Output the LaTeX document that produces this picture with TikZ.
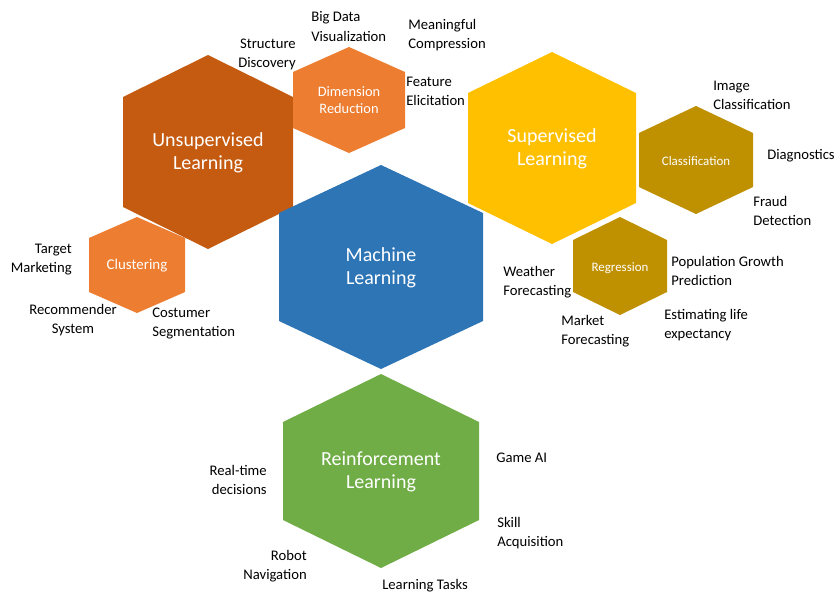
\documentclass[tikz,border=0pt]{standalone}
\usepackage{fontspec}
\setmainfont{Carlito}
\usepackage{tikz}
\usetikzlibrary{positioning}

\definecolor{unsupc}{HTML}{C55A11}
\definecolor{lightor}{HTML}{ED7D31}
\definecolor{mlblue}{HTML}{2E75B6}
\definecolor{supc}{HTML}{FFC000}
\definecolor{goldc}{HTML}{BF9000}
\definecolor{reinfc}{HTML}{70AD47}

\begin{document}
\begin{tikzpicture} [x=.75pt, y=-.75pt,
  lbl/.style={font=\fontsize{11}{14.3}\selectfont, inner sep=0pt},
  hexlbl/.style={white, align=center, inner sep=0pt}]
\useasboundingbox (0,0) rectangle (834,593);

\foreach \cx/\cy/\w/\h/\s/\c in {208/152/85/97/42/unsupc, 349/100/56/53/25/lightor, 381/267/102/102/48/mlblue, 552/148/84/96/41/supc, 696/160/57/54/27/goldc, 620/266/47/49/23/goldc, 137/265/48/48/21/lightor, 381/471/98/97/48/reinfc} \fill[\c] (\cx,\cy-\h) -- (\cx+\w,\cy-\h+\s) -- (\cx+\w,\cy+\h-\s) -- (\cx,\cy+\h) -- (\cx-\w,\cy+\h-\s) -- (\cx-\w,\cy-\h+\s) -- cycle;

\node[hexlbl, font=\fontsize{15}{17.2}\selectfont] (unsup) at (208,152.5) {Unsupervised\\Learning};
\node[hexlbl, font=\fontsize{15}{17.2}\selectfont] (ml) at (381,267.5) {Machine\\Learning};
\node[hexlbl, font=\fontsize{15}{17.2}\selectfont] (sup) at (552,148.5) {Supervised\\Learning};
\node[hexlbl, font=\fontsize{15}{17.2}\selectfont] (reinf) at (381,471.5) {Reinforcement\\Learning};
\node[hexlbl, font=\fontsize{10.8}{12.8}\selectfont] (dimred) at (349,100.5) {Dimension\\Reduction};
\node[hexlbl, font=\fontsize{9.7}{11}\selectfont] (classif) at (696,161) {Classification};
\node[hexlbl, font=\fontsize{9.7}{11}\selectfont] (regr) at (620,268) {Regression};
\node[hexlbl, font=\fontsize{11.2}{12}\selectfont] (clust) at (137,266) {Clustering};

\node[lbl, anchor=east, align=right] (struct) at (296,54.5) {Structure\\Discovery};
\node[lbl, anchor=west, align=left] (bigdata) at (311,26.5) {Big Data\\Visualization};
\node[lbl, anchor=west, align=left] (meaning) at (408,35.5) {Meaningful\\Compression};
\node[lbl, anchor=west, align=left] (feature) at (406,91) {Feature\\Elicitation};
\node[lbl, anchor=west, align=left] (image) at (713,95) {Image\\Classification};
\node[lbl, anchor=west] (diag) at (767,155.5) {Diagnostics};
\node[lbl, anchor=west, align=left] (fraud) at (753,211) {Fraud\\Detection};
\node[lbl, anchor=west, align=left] (popgrowth) at (671,271) {Population Growth\\Prediction};
\node[lbl, anchor=west, align=left] (lifeexp) at (664,325) {Estimating life\\expectancy};
\node[lbl, anchor=west, align=left] (market) at (561,331) {Market\\Forecasting};
\node[lbl, anchor=west, align=left] (weather) at (503,282.5) {Weather\\Forecasting};
\node[lbl, anchor=east, align=right] (target) at (72,260) {Target\\Marketing};
\node[lbl, align=center] (recomm) at (73,320) {Recommender\\System};
\node[lbl, anchor=west, align=left] (costumer) at (152,323.5) {Costumer\\Segmentation};
\node[lbl, anchor=east, align=right] (realtime) at (267,479.5) {Real-time\\decisions};
\node[lbl, anchor=east, align=right] (robot) at (307,566.5) {Robot\\Navigation};
\node[lbl, anchor=west] (tasks) at (382,585.5) {Learning Tasks};
\node[lbl, anchor=west] (gameai) at (496,457.5) {Game AI};
\node[lbl, anchor=west, align=left] (skill) at (497,533.5) {Skill\\Acquisition};

\end{tikzpicture}
\end{document}
